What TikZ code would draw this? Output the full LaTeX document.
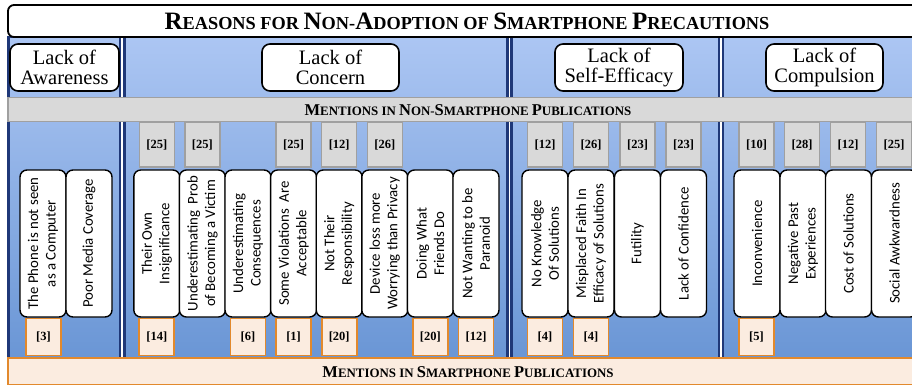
\documentclass[tikz,border=0pt]{standalone}
\usepackage{fontspec}
\setmainfont{Liberation Serif}
\newfontfamily\calibri{Carlito}
\definecolor{navy}{RGB}{31,56,120}
\definecolor{pantop}{RGB}{172,198,243}
\definecolor{panbot}{RGB}{106,150,213}
\definecolor{bandgray}{RGB}{217,217,217}
\definecolor{bordgray}{RGB}{160,160,160}
\definecolor{orangeb}{RGB}{226,137,44}
\definecolor{peach}{RGB}{251,236,224}
\newcommand\TB{\fontsize{25}{26}\selectfont}
\newcommand\TS{\fontsize{18.3}{19}\selectfont}
\newcommand\MB{\fontsize{16.5}{17}\selectfont}
\newcommand\MS{\fontsize{12.9}{13}\selectfont}
\tikzset{
  panel/.style={draw=navy, line width=2.5pt, top color=pantop, bottom color=panbot},
  catbox/.style={draw, line width=1.6pt, fill=white, rounded corners=8pt, align=center,
    inner sep=0pt, font=\fontsize{20.5}{19.5}\selectfont},
  wbox/.style={draw, line width=1.4pt, fill=white, rounded corners=7pt, rotate=90,
    minimum width=147pt, minimum height=46pt, inner sep=0pt, align=center,
    font=\calibri\fontsize{14.8}{17.5}\selectfont},
  gbox/.style={draw=bordgray, fill=bandgray, line width=1.5pt, minimum width=35pt,
    minimum height=45pt, inner sep=0pt, font=\bfseries\fontsize{12.5}{13}\selectfont},
  obox/.style={draw=orangeb, fill=peach, line width=1.8pt, minimum width=35pt,
    minimum height=37pt, inner sep=0pt, font=\bfseries\fontsize{12.5}{13}\selectfont},
}
\begin{document}
\begin{tikzpicture}[x=1pt,y=-1pt]
\useasboundingbox (0,0) rectangle (912,386);
\clip (0,0) rectangle (912,386);
% panels
\path[panel] (8.5,37) rectangle (120,358);
\path[panel] (124.5,37) rectangle (507.5,358);
\path[panel] (511.5,37) rectangle (719,358);
\path[panel] (723,37) rectangle (940,358);
% title
\draw[line width=1.8pt, fill=white, rounded corners=6pt] (8,5) rectangle (950,37);
\node (title) at (467,21.5) {\bfseries\TB R\TS EASONS FOR \TB N\TS ON-\TB A\TS DOPTION OF \TB S\TS MARTPHONE \TB P\TS RECAUTIONS};
% categories
\node[catbox, minimum width=109pt, minimum height=47pt] (aw) at (64.5,67.5) {Lack of\\Awareness};
\node[catbox, minimum width=137pt, minimum height=47pt] (co) at (330.5,67.5) {Lack of\\Concern};
\node[catbox, minimum width=128pt, minimum height=47pt] (se) at (619,67.5) {Lack of\\Self-Efficacy};
\node[catbox, minimum width=117pt, minimum height=47pt] (cp) at (824.5,67.5) {Lack of\\Compulsion};
% gray boxes (non-smartphone)
\node[gbox] (g3) at (156.8,144.5) {[25]};
\node[gbox] (g4) at (202.4,144.5) {[25]};
\node[gbox] (g6) at (293.6,144.5) {[25]};
\node[gbox] (g7) at (339.2,144.5) {[12]};
\node[gbox] (g8) at (384.8,144.5) {[26]};
\node[gbox] (g11) at (545,144.5) {[12]};
\node[gbox] (g12) at (591,144.5) {[26]};
\node[gbox] (g13) at (637.5,144.5) {[23]};
\node[gbox] (g14) at (683.5,144.5) {[23]};
\node[gbox] (g15) at (756.5,144.5) {[10]};
\node[gbox] (g16) at (802,144.5) {[28]};
\node[gbox] (g17) at (848,144.5) {[12]};
\node[gbox] (g18) at (894,144.5) {[25]};
% gray band
\draw[draw=bordgray, fill=bandgray, line width=1.5pt] (8,97.5) rectangle (950,121.5);
\node (nonsp) at (468,110) {\bfseries\MB M\MS ENTIONS IN \MB N\MS ON-\MB S\MS MARTPHONE \MB P\MS UBLICATIONS};
% orange boxes (smartphone)
\node[obox] (o1) at (43.5,337) {[3]};
\node[obox] (o3) at (156.8,337) {[14]};
\node[obox] (o5) at (248,337) {[6]};
\node[obox] (o6) at (293.6,337) {[1]};
\node[obox] (o7) at (339.2,337) {[20]};
\node[obox] (o9) at (430.4,337) {[20]};
\node[obox] (o10) at (476,337) {[12]};
\node[obox] (o11) at (545,337) {[4]};
\node[obox] (o12) at (591,337) {[4]};
\node[obox] (o15) at (756.5,337) {[5]};
% white reason boxes
\node[wbox] (w1) at (43,243.5) {The Phone is not seen\\as a Computer};
\node[wbox] (w2) at (89,243.5) {Poor Media Coverage};
\node[wbox] (w3) at (156.8,243.5) {Their Own\\Insignificance};
\node[wbox] (w4) at (202.4,243.5) {Underestimating\ \ Prob\\of Becoming a Victim};
\node[wbox] (w5) at (248,243.5) {Underestimating\\Consequences};
\node[wbox] (w6) at (293.6,243.5) {Some Violations\ \ Are\\Acceptable};
\node[wbox] (w7) at (339.2,243.5) {Not Their\\Responsibility};
\node[wbox] (w8) at (384.8,243.5) {Device loss more\\Worrying than Privacy};
\node[wbox] (w9) at (430.4,243.5) {Doing What\\Friends Do};
\node[wbox] (w10) at (476,243.5) {Not Wanting to be\\Paranoid};
\node[wbox] (w11) at (545,243.5) {No Knowledge\\Of Solutions};
\node[wbox] (w12) at (591,243.5) {Misplaced Faith In\\Efficacy of Solutions};
\node[wbox] (w13) at (637.5,243.5) {Futility};
\node[wbox] (w14) at (683.5,243.5) {Lack of Confidence};
\node[wbox] (w15) at (757,243.5) {Inconvenience};
\node[wbox] (w16) at (803,243.5) {Negative Past\\Experiences};
\node[wbox] (w17) at (848.5,243.5) {Cost of Solutions};
\node[wbox] (w18) at (894.5,243.5) {Social Awkwardness};
% bottom band
\draw[draw=orangeb, fill=peach, line width=1.8pt] (8,358) rectangle (950,384.5);
\node (smp) at (468,372) {\bfseries\MB M\MS ENTIONS IN \MB S\MS MARTPHONE \MB P\MS UBLICATIONS};
\end{tikzpicture}
\end{document}
